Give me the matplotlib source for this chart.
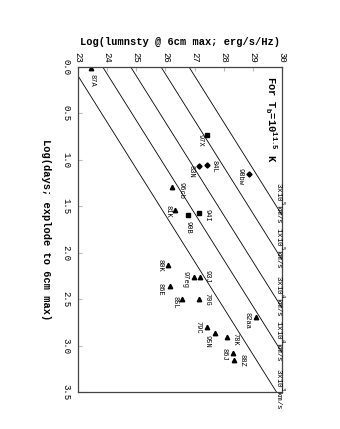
import matplotlib
matplotlib.use("Agg")
import matplotlib.pyplot as plt
import numpy as np

plt.rcParams['font.family'] = ['Liberation Mono', 'DejaVu Sans Mono']

# Supernova: nama, log luminositas (erg/s/Hz), log hari sampai puncak 6cm
nama_sn = ["87A", "97X", "84L", "83N", "96cb", "94I", "81K", "90B", "98bw",
           "80K", "86E", "97eg", "93J", "85L", "70G", "82aa", "79C", "95N",
           "78K", "86J", "88Z"]
log_lum = [23.45, 27.44, 27.44, 27.15, 26.24, 27.15, 26.33, 26.76, 28.88,
           26.08, 26.16, 26.98, 27.19, 26.57, 27.16, 29.11, 27.42, 27.70,
           28.10, 28.31, 28.35]
log_hari = [0.01, 0.73, 1.055, 1.07, 1.29, 1.57, 1.54, 1.59, 1.15,
            2.13, 2.36, 2.26, 2.26, 2.50, 2.50, 2.69, 2.80, 2.86,
            2.91, 3.08, 3.16]
simbol = ["^", "s", "D", "D", "^", "s", "^", "s", "D",
          "^", "^", "^", "^", "^", "^", "^", "^", "^",
          "^", "^", "^"]

# Garis kecepatan konstan: log L = intercept + 2 log t
kecepatan = ["3x10$^{3}$km/s", "1x10$^{4}$km/s", "3x10$^{4}$km/s",
             "1x10$^{5}$km/s", "3x10$^{5}$km/s"]
intercept = [22.81, 23.85, 24.81, 25.85, 26.81]
kemiringan = 2.0

# posisi label relatif terhadap marker (piksel)
geser_label = [(1, -12), (-7, -6), (7, -1), (-8, -5), (9, -4), (8, -3), (-7, -1), (0, -13), (-9, -3),
               (-8, -1), (-10, -3), (-9, -3), (7, 0), (-7, -3), (8, 0), (-9, -4), (-9, 0), (-8, -9),
               (8, -2), (-9, -1), (8, 0)]

fig = plt.figure(figsize=(3.4, 4.29), dpi=100)
ax = fig.add_axes([78/340, 37/429, 204/340, 325/429])

# garis-garis kecepatan
t = np.array([-0.2, 3.8])
for c, lab in zip(intercept, kecepatan):
    ax.plot(c + kemiringan * t, t, color='black', linewidth=0.6)
    t_keluar = (30 - c) / kemiringan
    ax.text(29.93, t_keluar - 0.13, lab, rotation=-90, ha='center', va='center',
            fontsize=5.5, clip_on=False)

# titik data
for i in range(len(nama_sn)):
    ukuran = 3.2
    if simbol[i] == "s":
        ukuran = 3.0
    if simbol[i] == "D":
        ukuran = 2.6
    ax.plot(log_lum[i], log_hari[i], marker=simbol[i], color='black',
            markersize=ukuran, linestyle='none')
    ax.annotate(nama_sn[i], (log_lum[i], log_hari[i]), xytext=geser_label[i],
                textcoords='offset pixels', rotation=-90, ha='center', va='center',
                fontsize=5)

ax.text(29.6, 0.1, "For T$_\\mathregular{b}$=10$^{\\mathregular{11.5}}$ K", rotation=-90,
        ha='center', va='top', fontsize=7.5, fontweight='bold')

ax.set_xlim(23, 30)
ax.set_ylim(3.5, 0)
ax.xaxis.tick_top()
ax.xaxis.set_label_position('top')
ax.set_xticks(range(23, 31))
ax.set_yticks(np.arange(0, 3.6, 0.5))
ax.set_yticklabels(["%.1f" % v for v in np.arange(0, 3.6, 0.5)])
ax.tick_params(direction='in', length=3, color='#bbbbbb', labelsize=6.5, pad=4)
for lbl in ax.get_xticklabels() + ax.get_yticklabels():
    lbl.set_rotation(-90)
    lbl.set_ha('center')
    lbl.set_va('center')
ax.tick_params(axis='x', pad=7)
ax.tick_params(axis='y', pad=9)

ax.set_xlabel('Log(lumnsty @ 6cm max; erg/s/Hz)', fontsize=7.5, fontweight='bold', labelpad=5)
ax.set_ylabel('Log(days; explode to 6cm max)', fontsize=7.5, fontweight='bold',
              rotation=-90, labelpad=11, va='center')
for s in ax.spines.values():
    s.set_color('#444444')
    s.set_linewidth(0.9)

fig.savefig('out.png', dpi=100)
